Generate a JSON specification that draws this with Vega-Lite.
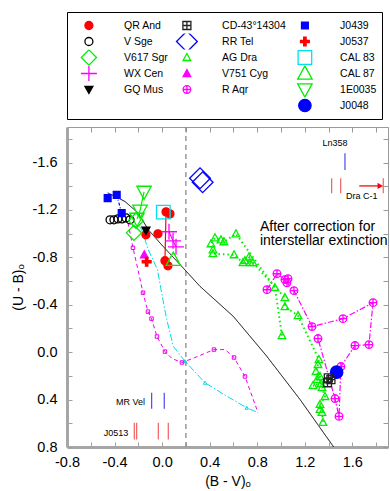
{
 "$schema": "https://vega.github.io/schema/vega-lite/v6.json",
 "width": 321, "height": 320,
 "autosize": {"type": "none"},
 "padding": {"left": 67, "top": 127, "right": 2, "bottom": 44},
 "background": "white",
 "config": {
  "view": {"stroke": null},
  "font": "Liberation Sans",
  "legend": {"labelFont": "Liberation Sans", "labelFontSize": 10.5, "labelColor": "#000", "symbolStrokeWidth": 1.3, "symbolSize": 64, "columns": 3, "columnPadding": 2, "rowPadding": 0, "clipHeight": 16, "gridAlign": "each", "padding": 5.5, "strokeColor": "#000", "labelOffset": 29.9, "symbolOffset": 11.15}
 },
 "datasets": {
  "vline": [{"x": 0.2}],
  "obs": [
   {"star": "QR And", "x": 0.033, "y": -1.184, "track": "QRA", "seq": 1},
   {"star": "QR And", "x": 0.066, "y": -1.167},
   {"star": "QR And", "x": -0.136, "y": -0.991},
   {"star": "QR And", "x": -0.035, "y": -0.999},
   {"star": "QR And", "x": 0.024, "y": -0.772, "track": "QRA", "seq": 2},
   {"star": "QR And", "x": 0.049, "y": -0.729},
   {"star": "V Sge", "x": -0.438, "y": -1.117},
   {"star": "V Sge", "x": -0.405, "y": -1.117},
   {"star": "V Sge", "x": -0.371, "y": -1.125},
   {"star": "V Sge", "x": -0.337, "y": -1.125},
   {"star": "V Sge", "x": -0.304, "y": -1.133},
   {"star": "V Sge", "x": -0.27, "y": -1.117},
   {"star": "V617 Sgr", "x": -0.237, "y": -1.007},
   {"star": "V617 Sgr", "x": -0.22, "y": -1.11},
   {"star": "WX Cen", "x": 0.058, "y": -1.016, "track": "WXC", "seq": 1},
   {"star": "WX Cen", "x": 0.092, "y": -0.94, "track": "WXC", "seq": 2},
   {"star": "WX Cen", "x": 0.117, "y": -0.889, "track": "WXC", "seq": 3},
   {"star": "GQ Mus", "x": -0.136, "y": -1.027},
   {"star": "AG Dra", "x": 1.008, "y": -0.14, "track": "AGD", "seq": 1},
   {"star": "AG Dra", "x": 0.949, "y": -0.544, "track": "AGD", "seq": 2},
   {"star": "AG Dra", "x": 0.621, "y": -0.999, "track": "AGD", "seq": 3},
   {"star": "AG Dra", "x": 0.52, "y": -0.932, "track": "AGD", "seq": 4},
   {"star": "AG Dra", "x": 0.495, "y": -0.948, "track": "AGD", "seq": 5},
   {"star": "AG Dra", "x": 0.445, "y": -0.965, "track": "AGD", "seq": 6},
   {"star": "AG Dra", "x": 0.411, "y": -0.915, "track": "AGD", "seq": 7},
   {"star": "AG Dra", "x": 0.428, "y": -0.864, "track": "AGD", "seq": 8},
   {"star": "AG Dra", "x": 0.428, "y": -0.831, "track": "AGD", "seq": 9},
   {"star": "AG Dra", "x": 0.605, "y": -0.822, "track": "AGD", "seq": 10},
   {"star": "AG Dra", "x": 0.68, "y": -0.755, "track": "AGD", "seq": 11},
   {"star": "AG Dra", "x": 0.697, "y": -0.772, "track": "AGD", "seq": 12},
   {"star": "AG Dra", "x": 0.731, "y": -0.805, "track": "AGD", "seq": 13},
   {"star": "AG Dra", "x": 0.739, "y": -0.755, "track": "AGD", "seq": 14},
   {"star": "AG Dra", "x": 0.764, "y": -0.755, "track": "AGD", "seq": 15},
   {"star": "AG Dra", "x": 1.033, "y": -0.46, "track": "AGD", "seq": 16},
   {"star": "AG Dra", "x": 1.033, "y": -0.384, "track": "AGD", "seq": 17},
   {"star": "AG Dra", "x": 1.143, "y": -0.308, "track": "AGD", "seq": 18},
   {"star": "AG Dra", "x": 1.319, "y": 0.062, "track": "AGD", "seq": 19},
   {"star": "AG Dra", "x": 1.311, "y": 0.104, "track": "AGD", "seq": 20},
   {"star": "AG Dra", "x": 1.294, "y": 0.163, "track": "AGD", "seq": 21},
   {"star": "AG Dra", "x": 1.328, "y": 0.205, "track": "AGD", "seq": 22},
   {"star": "AG Dra", "x": 1.303, "y": 0.231, "track": "AGD", "seq": 23},
   {"star": "AG Dra", "x": 1.336, "y": 0.265, "track": "AGD", "seq": 24},
   {"star": "AG Dra", "x": 1.269, "y": 0.281, "track": "AGD", "seq": 25},
   {"star": "AG Dra", "x": 1.345, "y": 0.298, "track": "AGD", "seq": 26},
   {"star": "AG Dra", "x": 1.37, "y": 0.374, "track": "AGD", "seq": 27},
   {"star": "AG Dra", "x": 1.328, "y": 0.441, "track": "AGD", "seq": 28},
   {"star": "AG Dra", "x": 1.328, "y": 0.483, "track": "AGD", "seq": 29},
   {"star": "AG Dra", "x": 1.345, "y": 0.508, "track": "AGD", "seq": 30},
   {"star": "AG Dra", "x": 1.353, "y": 0.593, "track": "AGD", "seq": 31},
   {"star": "V751 Cyg", "x": -0.15, "y": -0.822},
   {"star": "R Aqr", "x": 0.882, "y": -0.527, "track": "RAQ", "seq": 1},
   {"star": "R Aqr", "x": 0.966, "y": -0.662, "track": "RAQ", "seq": 2},
   {"star": "R Aqr", "x": 1.033, "y": -0.612, "track": "RAQ", "seq": 3},
   {"star": "R Aqr", "x": 1.059, "y": -0.62, "track": "RAQ", "seq": 4},
   {"star": "R Aqr", "x": 1.05, "y": -0.586, "track": "RAQ", "seq": 5},
   {"star": "R Aqr", "x": 1.109, "y": -0.519, "track": "RAQ", "seq": 6},
   {"star": "R Aqr", "x": 1.261, "y": -0.216, "track": "RAQ", "seq": 7},
   {"star": "R Aqr", "x": 1.521, "y": -0.283, "track": "RAQ", "seq": 8},
   {"star": "R Aqr", "x": 1.774, "y": -0.418, "track": "RAQ", "seq": 9},
   {"star": "R Aqr", "x": 1.74, "y": -0.064, "track": "RAQ", "seq": 10},
   {"star": "R Aqr", "x": 1.622, "y": -0.056, "track": "RAQ", "seq": 11},
   {"star": "R Aqr", "x": 1.504, "y": 0.121, "track": "RAQ", "seq": 12},
   {"star": "R Aqr", "x": 1.488, "y": 0.542, "track": "RAQ", "seq": 13},
   {"star": "R Aqr", "x": 1.454, "y": 0.391, "track": "RAQ", "seq": 14},
   {"star": "R Aqr", "x": 1.311, "y": -0.115, "track": "RAQ", "seq": 15},
   {"star": "J0048", "x": 1.468, "y": 0.169},
   {"star": "CD-43°14304", "x": 1.398, "y": 0.216},
   {"star": "CD-43°14304", "x": 1.391, "y": 0.258},
   {"star": "CD-43°14304", "x": 1.42, "y": 0.231},
   {"star": "RR Tel", "x": 0.319, "y": -1.468},
   {"star": "RR Tel", "x": 0.341, "y": -1.434},
   {"star": "J0439", "x": -0.458, "y": -1.3},
   {"star": "J0439", "x": -0.382, "y": -1.327, "track": "J0439", "seq": 1},
   {"star": "J0439", "x": -0.34, "y": -1.173, "track": "J0439", "seq": 2},
   {"star": "J0537", "x": -0.13, "y": -0.763},
   {"star": "CAL 83", "x": 0.01, "y": -1.182},
   {"star": "CAL 87", "x": 0.094, "y": -0.78},
   {"star": "1E0035", "x": -0.152, "y": -1.353, "track": "E0035", "seq": 1},
   {"star": "1E0035", "x": -0.186, "y": -1.193, "track": "E0035", "seq": 2},
   {"star": "1E0035", "x": -0.211, "y": -1.125, "track": "E0035", "seq": 3}
  ],
  "curves": [
   {"curve": "bb", "seq": 1, "x": -0.458, "y": -1.344},
   {"curve": "bb", "seq": 2, "x": -0.385, "y": -1.31},
   {"curve": "bb", "seq": 3, "x": -0.312, "y": -1.271},
   {"curve": "bb", "seq": 4, "x": -0.2, "y": -1.173},
   {"curve": "bb", "seq": 5, "x": -0.116, "y": -1.033},
   {"curve": "bb", "seq": 6, "x": -0.004, "y": -0.906},
   {"curve": "bb", "seq": 7, "x": 0.178, "y": -0.71},
   {"curve": "bb", "seq": 8, "x": 0.319, "y": -0.555},
   {"curve": "bb", "seq": 9, "x": 0.599, "y": -0.302},
   {"curve": "bb", "seq": 10, "x": 0.88, "y": 0.034},
   {"curve": "bb", "seq": 11, "x": 1.16, "y": 0.399},
   {"curve": "bb", "seq": 12, "x": 1.328, "y": 0.637},
   {"curve": "bb", "seq": 13, "x": 1.443, "y": 0.8},
   {"curve": "cy", "seq": 1, "x": -0.19, "y": -1.06},
   {"curve": "cy", "seq": 2, "x": -0.172, "y": -1.033},
   {"curve": "cy", "seq": 3, "x": -0.116, "y": -0.864},
   {"curve": "cy", "seq": 4, "x": -0.039, "y": -0.696},
   {"curve": "cy", "seq": 5, "x": -0.004, "y": -0.5},
   {"curve": "cy", "seq": 6, "x": 0.039, "y": -0.275},
   {"curve": "cy", "seq": 7, "x": 0.094, "y": -0.05},
   {"curve": "cy", "seq": 8, "x": 0.192, "y": 0.076, "mk": true},
   {"curve": "cy", "seq": 9, "x": 0.361, "y": 0.258, "mk": true},
   {"curve": "cy", "seq": 10, "x": 0.543, "y": 0.371},
   {"curve": "cy", "seq": 11, "x": 0.712, "y": 0.469, "mk": true},
   {"curve": "cy", "seq": 12, "x": 0.809, "y": 0.511},
   {"curve": "mg", "seq": 1, "x": -0.287, "y": -1.092},
   {"curve": "mg", "seq": 2, "x": -0.245, "y": -0.881, "mk": true},
   {"curve": "mg", "seq": 3, "x": -0.203, "y": -0.696},
   {"curve": "mg", "seq": 4, "x": -0.161, "y": -0.502, "mk": true},
   {"curve": "mg", "seq": 5, "x": -0.119, "y": -0.342, "mk": true},
   {"curve": "mg", "seq": 6, "x": -0.089, "y": -0.283, "mk": true},
   {"curve": "mg", "seq": 7, "x": -0.043, "y": -0.132, "mk": true},
   {"curve": "mg", "seq": 8, "x": 0.024, "y": -0.005, "mk": true},
   {"curve": "mg", "seq": 9, "x": 0.083, "y": 0.054},
   {"curve": "mg", "seq": 10, "x": 0.167, "y": 0.087, "mk": true},
   {"curve": "mg", "seq": 11, "x": 0.277, "y": 0.045},
   {"curve": "mg", "seq": 12, "x": 0.436, "y": -0.022, "mk": true},
   {"curve": "mg", "seq": 13, "x": 0.529, "y": -0.022},
   {"curve": "mg", "seq": 14, "x": 0.605, "y": 0.045, "mk": true},
   {"curve": "mg", "seq": 15, "x": 0.697, "y": 0.205, "mk": true},
   {"curve": "mg", "seq": 16, "x": 0.806, "y": 0.508}
  ],
  "segs": [
   {"x": 1.538, "y": -1.679, "y2": -1.538, "c": "b"},
   {"x": 1.426, "y": -1.468, "y2": -1.342, "c": "r"},
   {"x": 1.502, "y": -1.468, "y2": -1.342, "c": "r"},
   {"x": 1.86, "y": -1.468, "y2": -1.342, "c": "r"},
   {"x": -0.088, "y": 0.343, "y2": 0.477, "c": "b"},
   {"x": 0.018, "y": 0.343, "y2": 0.477, "c": "b"},
   {"x": -0.234, "y": 0.595, "y2": 0.736, "c": "r"},
   {"x": -0.214, "y": 0.595, "y2": 0.736, "c": "r"},
   {"x": -0.032, "y": 0.595, "y2": 0.736, "c": "r"},
   {"x": 0.052, "y": 0.595, "y2": 0.736, "c": "r"}
  ],
  "arrow": [{"x": 1.658, "x2": 1.835, "y": -1.403}],
  "texts": [
   {"label": "Ln358", "x": 1.454, "y": -1.763, "grp": "c"},
   {"label": "Dra C-1", "x": 1.679, "y": -1.319, "grp": "c"},
   {"label": "MR Vel", "x": -0.144, "y": 0.418, "grp": "r"},
   {"label": "J0513", "x": -0.284, "y": 0.679, "grp": "r"},
   {"label": "After correction for", "x": 0.823, "y": -1.055, "grp": "big"},
   {"label": "interstellar extinction", "x": 0.823, "y": -0.934, "grp": "big"}
  ]
 },
 "layer": [
  {
   "data": {"name": "vline"},
   "mark": {"type": "rule", "color": "#8a8a8a", "strokeDash": [5, 4], "strokeWidth": 1.3},
   "encoding": {"x": {"field": "x", "type": "quantitative", "scale": {"domain": [-0.8, 1.9], "nice": false, "zero": false}, "axis": null}}
  },
  {
   "data": {"name": "curves"},
   "mark": {"type": "line", "clip": true, "strokeWidth": 1},
   "encoding": {
    "x": {"field": "x", "type": "quantitative", "scale": {"domain": [-0.8, 1.9], "nice": false, "zero": false},
      "axis": {"orient": "top", "values": [-0.8, -0.6, -0.4, -0.2, 0, 0.2, 0.4, 0.6, 0.8, 1, 1.2, 1.4, 1.6, 1.8], "labels": false, "domainColor": "#9a9a9a", "domainWidth": 1, "tickColor": "#9a9a9a", "tickSize": -5, "title": null, "grid": false}},
    "y": {"field": "y", "type": "quantitative", "scale": {"domain": [-1.9, 0.8], "reverse": true, "nice": false, "zero": false},
      "axis": {"orient": "right", "values": [-1.8, -1.6, -1.4, -1.2, -1, -0.8, -0.6, -0.4, -0.2, 0, 0.2, 0.4, 0.6, 0.8], "labels": false, "domainColor": "#9a9a9a", "domainWidth": 1, "tickColor": "#9a9a9a", "tickSize": -5, "title": null, "grid": false}},
    "order": {"field": "seq"},
    "color": {"field": "curve", "type": "nominal", "scale": {"domain": ["bb", "cy", "mg"], "range": ["#000000", "#00dde6", "#ee00ee"]}, "legend": null},
    "strokeDash": {"field": "curve", "type": "nominal", "scale": {"domain": ["bb", "cy", "mg"], "range": [[1, 0], [7, 2, 1.5, 2], [4, 3]]}, "legend": null}
   }
  },
  {
   "data": {"name": "curves"},
   "transform": [{"filter": "datum.mk && datum.curve == 'cy'"}],
   "mark": {"type": "point", "shape": "triangle-up", "filled": false, "opacity": 1, "size": 12, "strokeWidth": 1, "color": "#00dde6"},
   "encoding": {
    "x": {"field": "x", "type": "quantitative", "scale": {"domain": [-0.8, 1.9], "nice": false, "zero": false}, "axis": null},
    "y": {"field": "y", "type": "quantitative", "scale": {"domain": [-1.9, 0.8], "reverse": true, "nice": false, "zero": false}, "axis": null}
   }
  },
  {
   "data": {"name": "curves"},
   "transform": [{"filter": "datum.mk && datum.curve == 'mg'"}],
   "mark": {"type": "point", "shape": "square", "filled": false, "opacity": 1, "size": 12, "strokeWidth": 1, "color": "#ee00ee"},
   "encoding": {
    "x": {"field": "x", "type": "quantitative", "scale": {"domain": [-0.8, 1.9], "nice": false, "zero": false}, "axis": null},
    "y": {"field": "y", "type": "quantitative", "scale": {"domain": [-1.9, 0.8], "reverse": true, "nice": false, "zero": false}, "axis": null}
   }
  },
  {
   "data": {"name": "obs"},
   "transform": [{"filter": "datum.track != null && datum.track != 'AGD'"}],
   "mark": {"type": "line", "strokeWidth": 1.2},
   "encoding": {
    "x": {"field": "x", "type": "quantitative", "scale": {"domain": [-0.8, 1.9], "nice": false, "zero": false}, "axis": null},
    "y": {"field": "y", "type": "quantitative", "scale": {"domain": [-1.9, 0.8], "reverse": true, "nice": false, "zero": false}, "axis": null},
    "order": {"field": "seq"},
    "color": {"field": "track", "type": "nominal", "scale": {"domain": ["QRA", "WXC", "E0035", "J0439", "RAQ"], "range": ["#ff0000", "#ff00ff", "#00ee00", "#0000ff", "#ff00ff"]}, "legend": null},
    "strokeDash": {"field": "track", "type": "nominal", "scale": {"domain": ["QRA", "WXC", "E0035", "J0439", "RAQ"], "range": [[1, 0], [1, 0], [1, 0], [3, 2, 1, 2], [6, 2, 1.5, 2]]}, "legend": null}
   }
  },
  {
   "data": {"name": "obs"},
   "transform": [{"filter": "datum.track == 'AGD'"}],
   "mark": {"type": "line", "color": "#00ee00", "strokeDash": [1.5, 3], "strokeWidth": 2},
   "encoding": {
    "x": {"field": "x", "type": "quantitative", "scale": {"domain": [-0.8, 1.9], "nice": false, "zero": false}, "axis": null},
    "y": {"field": "y", "type": "quantitative", "scale": {"domain": [-1.9, 0.8], "reverse": true, "nice": false, "zero": false}, "axis": null},
    "order": {"field": "seq"}
   }
  },
  {
   "data": {"name": "obs"},
   "mark": {"type": "point", "opacity": 1, "size": 64, "strokeWidth": 1.3},
   "encoding": {
    "x": {"field": "x", "type": "quantitative", "scale": {"domain": [-0.8, 1.9], "nice": false, "zero": false},
      "axis": {"orient": "bottom", "values": [-0.8, -0.6, -0.4, -0.2, 0, 0.2, 0.4, 0.6, 0.8, 1, 1.2, 1.4, 1.6, 1.8], "labelExpr": "abs(round(datum.value*10)) % 4 == 0 ? replace(format(datum.value, '.1f'), '\u2212', '-') : ''", "labelFlush": false, "labelOverlap": false, "domainColor": "#a6a6a6", "domainWidth": 3, "tickColor": "#a0a0a0", "tickSize": -5, "labelPadding": 13, "labelFont": "Liberation Sans", "labelFontSize": 14.5, "labelColor": "#000", "grid": false, "title": "(B - V)ₒ", "titleFont": "Liberation Sans", "titleFontSize": 14, "titleFontWeight": "normal", "titleColor": "#000", "titlePadding": 6}},
    "y": {"field": "y", "type": "quantitative", "scale": {"domain": [-1.9, 0.8], "reverse": true, "nice": false, "zero": false},
      "axis": {"orient": "left", "values": [-1.8, -1.6, -1.4, -1.2, -1, -0.8, -0.6, -0.4, -0.2, 0, 0.2, 0.4, 0.6, 0.8], "labelExpr": "abs(round(datum.value*10)) % 4 == 0 ? replace(format(datum.value, '.1f'), '\u2212', '-') : ''", "labelFlush": false, "labelOverlap": false, "domainColor": "#a6a6a6", "domainWidth": 3, "tickColor": "#a0a0a0", "tickSize": -5, "labelPadding": 15, "labelFont": "Liberation Sans", "labelFontSize": 14.5, "labelColor": "#000", "grid": false, "title": "(U - B)ₒ", "titleFont": "Liberation Sans", "titleFontSize": 14, "titleFontWeight": "normal", "titleColor": "#000", "titlePadding": 7}},
    "shape": {"field": "star", "type": "nominal",
      "scale": {"domain": ["QR And", "V Sge", "V617 Sgr", "WX Cen", "GQ Mus", " ", "CD-43°14304", "RR Tel", "AG Dra", "V751 Cyg", "R Aqr", "  ", "J0439", "J0537", "CAL 83", "CAL 87", "1E0035", "J0048"],
        "range": ["circle", "circle", "M-1.9,0L0,-1.9L1.9,0L0,1.9Z", "M-2,0H2M0,-2V2", "M-1,-0.8L1,-0.8L0,1Z", "circle", "M-1,-1H1V1H-1ZM-1,0H1M0,-1V1", "M-2.6,0L0,-2.6L2.6,0L0,2.6Z", "M0,-1L0.95,0.75L-0.95,0.75Z", "M0,-1L0.95,0.75L-0.95,0.75Z", "M-0.95,0A0.95,0.95 0 1,1 0.95,0A0.95,0.95 0 1,1 -0.95,0ZM-0.95,0H0.95M0,-0.95V0.95", "circle", "M-0.85,-0.85H0.85V0.85H-0.85Z", "M-0.3,-1.1H0.3V-0.3H1.1V0.3H0.3V1.1H-0.3V0.3H-1.1V-0.3H-0.3Z", "M-1.7,-1.7H1.7V1.7H-1.7Z", "M0,-1.9L1.8,1.4L-1.8,1.4Z", "M-1.8,-1.4L1.8,-1.4L0,1.9Z", "M-1.55,0A1.55,1.55 0 1,1 1.55,0A1.55,1.55 0 1,1 -1.55,0Z"]},
      "legend": {"title": null, "orient": "none", "legendX": 0, "legendY": -115}},
    "fill": {"field": "star", "type": "nominal",
      "scale": {"domain": ["QR And", "V Sge", "V617 Sgr", "WX Cen", "GQ Mus", " ", "CD-43°14304", "RR Tel", "AG Dra", "V751 Cyg", "R Aqr", "  ", "J0439", "J0537", "CAL 83", "CAL 87", "1E0035", "J0048"],
        "range": ["#ff0000", "transparent", "transparent", "transparent", "#000000", "transparent", "transparent", "transparent", "transparent", "#ff00ff", "transparent", "transparent", "#0000ff", "#ff0000", "transparent", "transparent", "transparent", "#0000ff"]},
      "legend": {"title": null, "orient": "none", "legendX": 0, "legendY": -115}},
    "stroke": {"field": "star", "type": "nominal",
      "scale": {"domain": ["QR And", "V Sge", "V617 Sgr", "WX Cen", "GQ Mus", " ", "CD-43°14304", "RR Tel", "AG Dra", "V751 Cyg", "R Aqr", "  ", "J0439", "J0537", "CAL 83", "CAL 87", "1E0035", "J0048"],
        "range": ["#ff0000", "#000000", "#00ee00", "#ff00ff", "#000000", "transparent", "#222222", "#0000ff", "#00ee00", "#ff00ff", "#ff00ff", "transparent", "#0000ff", "#ff0000", "#00e0ee", "#00ee00", "#00ee00", "#0000ff"]},
      "legend": {"title": null, "orient": "none", "legendX": 0, "legendY": -115}}
   }
  },
  {
   "data": {"name": "segs"},
   "mark": {"type": "rule", "strokeWidth": 1.2},
   "encoding": {
    "x": {"field": "x", "type": "quantitative", "scale": {"domain": [-0.8, 1.9], "nice": false, "zero": false}, "axis": null},
    "y": {"field": "y", "type": "quantitative", "scale": {"domain": [-1.9, 0.8], "reverse": true, "nice": false, "zero": false}, "axis": null},
    "y2": {"field": "y2"},
    "color": {"field": "c", "type": "nominal", "scale": {"domain": ["b", "r"], "range": ["#4a4ae8", "#f06060"]}, "legend": null}
   }
  },
  {
   "data": {"name": "arrow"},
   "mark": {"type": "rule", "color": "#f03030", "strokeWidth": 1.5},
   "encoding": {
    "x": {"field": "x", "type": "quantitative", "scale": {"domain": [-0.8, 1.9], "nice": false, "zero": false}, "axis": null},
    "x2": {"field": "x2"},
    "y": {"field": "y", "type": "quantitative", "scale": {"domain": [-1.9, 0.8], "reverse": true, "nice": false, "zero": false}, "axis": null}
   }
  },
  {
   "data": {"name": "arrow"},
   "mark": {"type": "point", "shape": "triangle-right", "filled": true, "color": "#ff0000", "opacity": 1, "size": 40},
   "encoding": {
    "x": {"field": "x2", "type": "quantitative", "scale": {"domain": [-0.8, 1.9], "nice": false, "zero": false}, "axis": null},
    "y": {"field": "y", "type": "quantitative", "scale": {"domain": [-1.9, 0.8], "reverse": true, "nice": false, "zero": false}, "axis": null}
   }
  },
  {
   "data": {"name": "texts"},
   "transform": [{"filter": "datum.grp == 'c'"}],
   "mark": {"type": "text", "align": "center", "baseline": "middle", "font": "Liberation Sans", "fontSize": 9, "color": "#000"},
   "encoding": {
    "x": {"field": "x", "type": "quantitative", "scale": {"domain": [-0.8, 1.9], "nice": false, "zero": false}, "axis": null},
    "y": {"field": "y", "type": "quantitative", "scale": {"domain": [-1.9, 0.8], "reverse": true, "nice": false, "zero": false}, "axis": null},
    "text": {"field": "label"}
   }
  },
  {
   "data": {"name": "texts"},
   "transform": [{"filter": "datum.grp == 'r'"}],
   "mark": {"type": "text", "align": "right", "baseline": "middle", "font": "Liberation Sans", "fontSize": 9, "color": "#000"},
   "encoding": {
    "x": {"field": "x", "type": "quantitative", "scale": {"domain": [-0.8, 1.9], "nice": false, "zero": false}, "axis": null},
    "y": {"field": "y", "type": "quantitative", "scale": {"domain": [-1.9, 0.8], "reverse": true, "nice": false, "zero": false}, "axis": null},
    "text": {"field": "label"}
   }
  },
  {
   "data": {"name": "texts"},
   "transform": [{"filter": "datum.grp == 'big'"}],
   "mark": {"type": "text", "align": "left", "baseline": "middle", "font": "Liberation Sans", "fontSize": 14, "color": "#000"},
   "encoding": {
    "x": {"field": "x", "type": "quantitative", "scale": {"domain": [-0.8, 1.9], "nice": false, "zero": false}, "axis": null},
    "y": {"field": "y", "type": "quantitative", "scale": {"domain": [-1.9, 0.8], "reverse": true, "nice": false, "zero": false}, "axis": null},
    "text": {"field": "label"}
   }
  }
 ],
 "resolve": {
  "scale": {"color": "independent", "strokeDash": "independent"},
  "axis": {"x": "independent", "y": "independent"}
 }
}
